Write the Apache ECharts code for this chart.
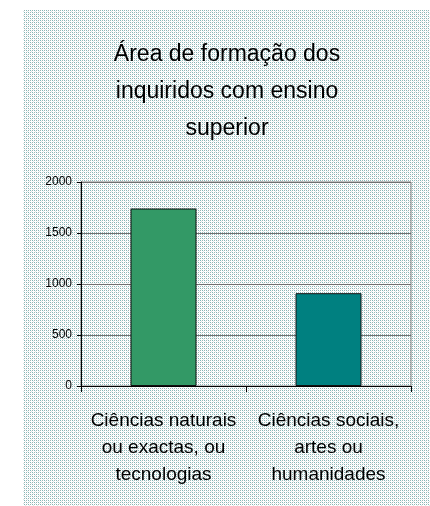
<!DOCTYPE html>
<html>
<head>
<meta charset="utf-8">
<script src="https://cdn.jsdelivr.net/npm/echarts@6/dist/echarts.min.js"></script>
<style>
html,body{margin:0;padding:0;background:#fff;}
#chart{width:430px;height:506px;}
</style>
</head>
<body>
<div id="chart"></div>
<script>
const titleText = 'Área de formação dos\ninquiridos com ensino\nsuperior';
const categories = ['Ciências naturais\nou exactas, ou\ntecnologias', 'Ciências sociais,\nartes ou\nhumanidades'];
const values = [1740, 910];
const barColors = ['#339966', '#008080'];
const yTicks = [0, 500, 1000, 1500, 2000];

// dotted background pattern tile
const tile = document.createElement('canvas');
tile.width = 4; tile.height = 4;
const tc = tile.getContext('2d');
tc.fillStyle = '#ffffff'; tc.fillRect(0, 0, 4, 4);
const px = (x, y, c) => { tc.fillStyle = c; tc.fillRect(x, y, 1, 1); };
px(0, 0, '#7fb8b8'); px(2, 0, '#a4b4b4');
px(0, 2, '#9cb0b0'); px(2, 2, '#7fb8b8');
px(1, 1, '#e0e8e8'); px(3, 3, '#e0e8e8');

const font = '"Liberation Sans", Arial, sans-serif';
const chart = echarts.init(document.getElementById('chart'), null, {renderer: 'canvas'});
chart.setOption({
  animation: false,
  backgroundColor: '#ffffff',
  graphic: [{
    type: 'rect', z: -10, silent: true,
    shape: {x: 23, y: 10, width: 407, height: 496},
    style: {fill: {image: tile, repeat: 'repeat'}}
  }],
  title: {
    text: titleText,
    left: 222, top: 31, textAlign: 'center',
    textStyle: {fontFamily: font, fontSize: 23, fontWeight: 'normal', color: '#000', lineHeight: 37}
  },
  grid: {
    left: 81, right: 19, top: 182, bottom: 120,
    show: true, borderColor: '#808080', borderWidth: 1, backgroundColor: 'transparent'
  },
  xAxis: {
    type: 'category',
    data: categories,
    axisLine: {lineStyle: {color: '#000', width: 1}},
    axisTick: {show: true, length: 6, lineStyle: {color: '#000'}},
    axisLabel: {fontFamily: font, fontSize: 19, color: '#000', lineHeight: 27, margin: 21, interval: 0}
  },
  yAxis: {
    type: 'value',
    min: yTicks[0], max: yTicks[yTicks.length - 1], interval: 500,
    axisLine: {show: true, lineStyle: {color: '#000', width: 1}},
    axisTick: {show: true, length: 4, lineStyle: {color: '#000'}},
    axisLabel: {fontFamily: font, fontSize: 12, color: '#000', margin: 9, formatter: v => String(v)},
    splitLine: {show: true, lineStyle: {color: '#707070', width: 1}}
  },
  series: [{
    type: 'bar',
    data: values.map((v, i) => ({value: v, itemStyle: {color: barColors[i]}})),
    barCategoryGap: '60%',
    itemStyle: {borderColor: '#111', borderWidth: 1}
  }]
});
</script>
</body>
</html>
